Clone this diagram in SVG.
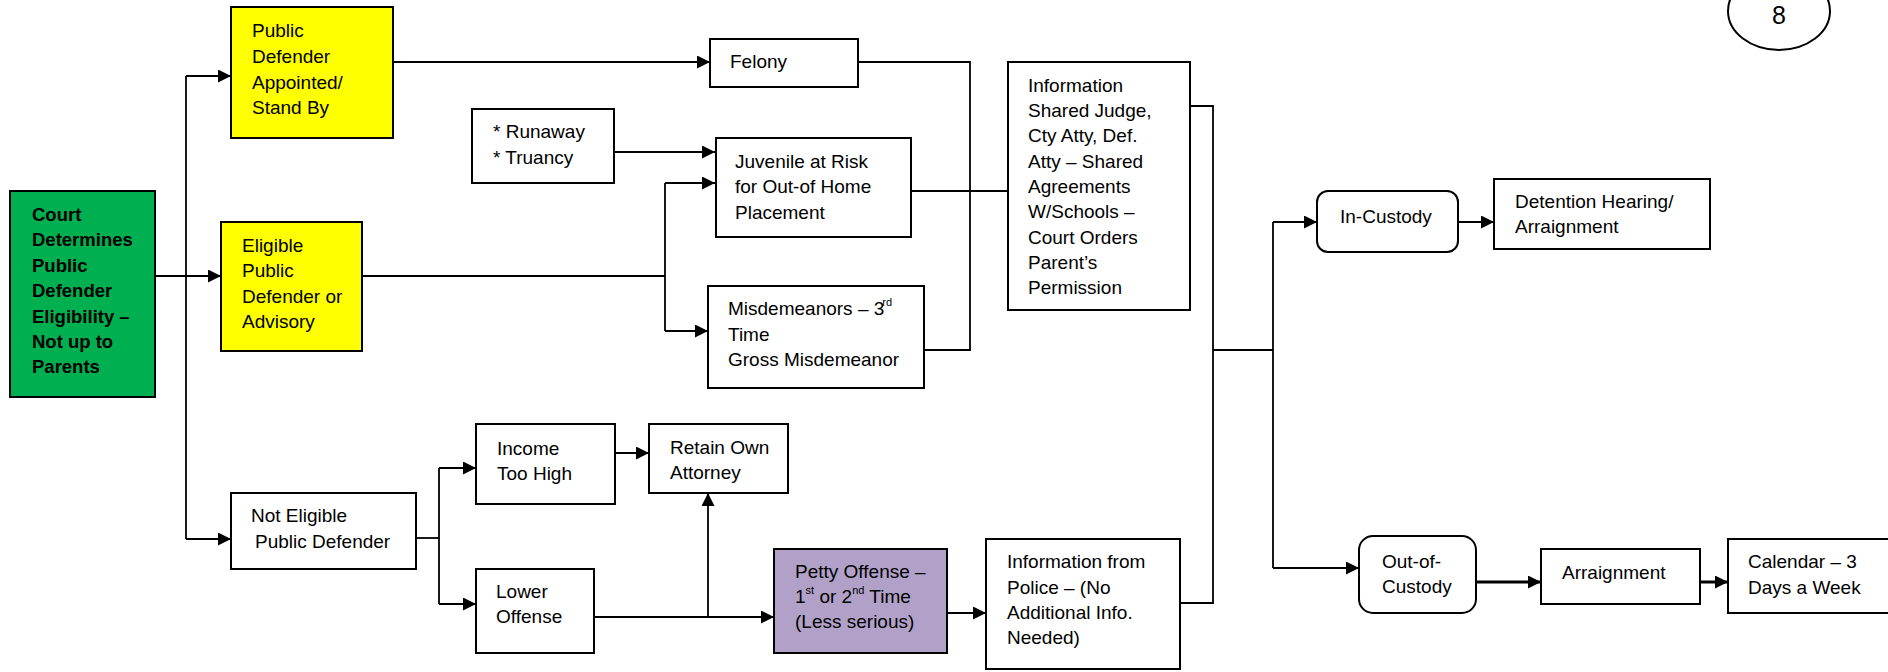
<svg xmlns="http://www.w3.org/2000/svg" width="1888" height="672" viewBox="0 0 1888 672">
<style>
  .box{fill:#fff;stroke:#000;stroke-width:2}
  .green{fill:#00B050}
  .yellow{fill:#FFFF00}
  .purple{fill:#B1A0C7}
  .t{font-family:"Liberation Sans",Arial,sans-serif;font-size:19px;fill:#000}
  .b{font-family:"Liberation Sans",Arial,sans-serif;font-size:18.5px;font-weight:bold;fill:#000}
  .sup{font-size:11px}
  .c{fill:none;stroke:#000;stroke-width:1.8}
  .thick{stroke-width:3}
</style>
<defs>
  <marker id="ah" markerUnits="userSpaceOnUse" markerWidth="14" markerHeight="14" refX="13" refY="6.5" orient="auto">
    <path d="M0,0 L13,6.5 L0,13 z" fill="#000"/>
  </marker>
</defs>
<rect width="1888" height="672" fill="#fff"/>

<g id="connectors">
  <path class="c" d="M155,276 H221" marker-end="url(#ah)"/>
  <path class="c" d="M186,76 V539"/>
  <path class="c" d="M186,76 H231" marker-end="url(#ah)"/>
  <path class="c" d="M186,539 H231" marker-end="url(#ah)"/>
  <path class="c" d="M393,62 H710" marker-end="url(#ah)"/>
  <path class="c" d="M858,62 H970 V350 H924"/>
  <path class="c" d="M614,152 H715" marker-end="url(#ah)"/>
  <path class="c" d="M362,276 H665"/>
  <path class="c" d="M665,183 V331"/>
  <path class="c" d="M665,183 H715" marker-end="url(#ah)"/>
  <path class="c" d="M665,331 H708" marker-end="url(#ah)"/>
  <path class="c" d="M906,191 H1008"/>
  <path class="c" d="M1190,106 H1213 V603 H1180"/>
  <path class="c" d="M1213,350 H1273"/>
  <path class="c" d="M1273,222 V568"/>
  <path class="c" d="M1273,222 H1317" marker-end="url(#ah)"/>
  <path class="c" d="M1273,568 H1359" marker-end="url(#ah)"/>
  <path class="c" d="M1458,222 H1494" marker-end="url(#ah)"/>
  <path class="c thick" d="M1476,582 H1541" marker-end="url(#ah)"/>
  <path class="c thick" d="M1700,582 H1728" marker-end="url(#ah)"/>
  <path class="c" d="M416,538 H439"/>
  <path class="c" d="M439,468 V604"/>
  <path class="c" d="M439,468 H476" marker-end="url(#ah)"/>
  <path class="c" d="M439,604 H476" marker-end="url(#ah)"/>
  <path class="c" d="M614,453 H649" marker-end="url(#ah)"/>
  <path class="c" d="M593,617 H774" marker-end="url(#ah)"/>
  <path class="c" d="M708,617 V493" marker-end="url(#ah)"/>
  <path class="c" d="M947,613 H986" marker-end="url(#ah)"/>
</g>

<g id="page-number">
  <ellipse cx="1779" cy="11" rx="51" ry="39" fill="#fff" stroke="#000" stroke-width="2"/>
  <text class="t" x="1779" y="24" text-anchor="middle" style="font-size:25px">8</text>
</g>

<g id="court-determines">
  <rect class="box green" x="10" y="191" width="145" height="206"/>
  <text class="b" x="32" y="221">Court</text>
  <text class="b" x="32" y="246">Determines</text>
  <text class="b" x="32" y="272">Public</text>
  <text class="b" x="32" y="297">Defender</text>
  <text class="b" x="32" y="323">Eligibility –</text>
  <text class="b" x="32" y="348">Not up to</text>
  <text class="b" x="32" y="373">Parents</text>
</g>

<g id="pd-appointed">
  <rect class="box yellow" x="231" y="7" width="162" height="131"/>
  <text class="t" x="252" y="37">Public</text>
  <text class="t" x="252" y="63">Defender</text>
  <text class="t" x="252" y="89">Appointed/</text>
  <text class="t" x="252" y="114">Stand By</text>
</g>

<g id="eligible">
  <rect class="box yellow" x="221" y="222" width="141" height="129"/>
  <text class="t" x="242" y="252">Eligible</text>
  <text class="t" x="242" y="277">Public</text>
  <text class="t" x="242" y="303">Defender or</text>
  <text class="t" x="242" y="328">Advisory</text>
</g>

<g id="not-eligible">
  <rect class="box" x="231" y="493" width="185" height="76"/>
  <text class="t" x="251" y="522">Not Eligible</text>
  <text class="t" x="255" y="548">Public Defender</text>
</g>

<g id="felony">
  <rect class="box" x="710" y="39" width="148" height="48"/>
  <text class="t" x="730" y="68">Felony</text>
</g>

<g id="runaway">
  <rect class="box" x="472" y="109" width="142" height="74"/>
  <text class="t" x="493" y="138">* Runaway</text>
  <text class="t" x="493" y="164">* Truancy</text>
</g>

<g id="juvenile">
  <rect class="box" x="716" y="138" width="195" height="99"/>
  <text class="t" x="735" y="168">Juvenile at Risk</text>
  <text class="t" x="735" y="193">for Out-of Home</text>
  <text class="t" x="735" y="219">Placement</text>
</g>

<g id="misdemeanors">
  <rect class="box" x="708" y="286" width="216" height="102"/>
  <text class="t" x="728" y="315">Misdemeanors – 3<tspan class="sup" dx="-2" dy="-9">rd</tspan></text>
  <text class="t" x="728" y="341">Time</text>
  <text class="t" x="728" y="366">Gross Misdemeanor</text>
</g>

<g id="info-shared">
  <rect class="box" x="1008" y="62" width="182" height="248"/>
  <text class="t" x="1028" y="92">Information</text>
  <text class="t" x="1028" y="117">Shared Judge,</text>
  <text class="t" x="1028" y="142">Cty Atty, Def.</text>
  <text class="t" x="1028" y="168">Atty – Shared</text>
  <text class="t" x="1028" y="193">Agreements</text>
  <text class="t" x="1028" y="218">W/Schools –</text>
  <text class="t" x="1028" y="244">Court Orders</text>
  <text class="t" x="1028" y="269">Parent’s</text>
  <text class="t" x="1028" y="294">Permission</text>
</g>

<g id="in-custody">
  <rect class="box" x="1317" y="191" width="141" height="61" rx="11"/>
  <text class="t" x="1340" y="223">In-Custody</text>
</g>

<g id="detention">
  <rect class="box" x="1494" y="179" width="216" height="70"/>
  <text class="t" x="1515" y="208">Detention Hearing/</text>
  <text class="t" x="1515" y="233">Arraignment</text>
</g>

<g id="income">
  <rect class="box" x="476" y="424" width="139" height="80"/>
  <text class="t" x="497" y="455">Income</text>
  <text class="t" x="497" y="480">Too High</text>
</g>

<g id="retain">
  <rect class="box" x="649" y="424" width="139" height="69"/>
  <text class="t" x="670" y="454">Retain Own</text>
  <text class="t" x="670" y="479">Attorney</text>
</g>

<g id="lower-offense">
  <rect class="box" x="476" y="569" width="118" height="84"/>
  <text class="t" x="496" y="598">Lower</text>
  <text class="t" x="496" y="623">Offense</text>
</g>

<g id="petty">
  <rect class="box purple" x="774" y="549" width="173" height="104"/>
  <text class="t" x="795" y="578">Petty Offense –</text>
  <text class="t" x="795" y="603">1<tspan class="sup" dy="-9">st</tspan><tspan dy="9"> or 2</tspan><tspan class="sup" dy="-9">nd</tspan><tspan dy="9"> Time</tspan></text>
  <text class="t" x="795" y="628">(Less serious)</text>
</g>

<g id="info-police">
  <rect class="box" x="986" y="539" width="194" height="130"/>
  <text class="t" x="1007" y="568">Information from</text>
  <text class="t" x="1007" y="594">Police – (No</text>
  <text class="t" x="1007" y="619">Additional Info.</text>
  <text class="t" x="1007" y="644">Needed)</text>
</g>

<g id="out-of-custody">
  <rect class="box" x="1359" y="536" width="117" height="77" rx="14"/>
  <text class="t" x="1382" y="568">Out-of-</text>
  <text class="t" x="1382" y="593">Custody</text>
</g>

<g id="arraignment">
  <rect class="box" x="1541" y="549" width="159" height="55"/>
  <text class="t" x="1562" y="579">Arraignment</text>
</g>

<g id="calendar">
  <rect class="box" x="1728" y="539" width="170" height="74"/>
  <text class="t" x="1748" y="568">Calendar – 3</text>
  <text class="t" x="1748" y="594">Days a Week</text>
</g>
</svg>
